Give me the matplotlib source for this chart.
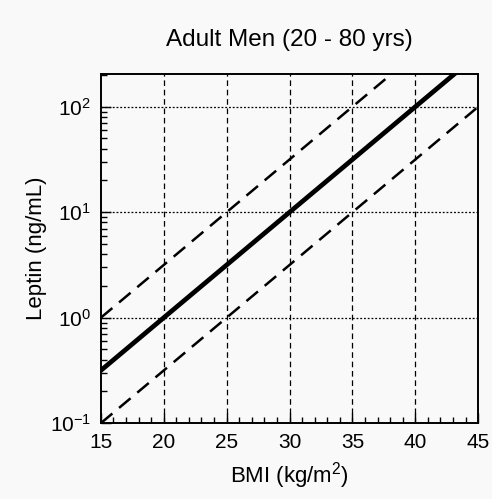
import matplotlib
matplotlib.use("Agg")
import matplotlib.pyplot as plt
from matplotlib.ticker import FixedLocator, LogLocator, NullFormatter

plt.rcParams['font.family'] = ['Liberation Sans', 'DejaVu Sans']
plt.rcParams['mathtext.fontset'] = 'custom'
plt.rcParams['mathtext.rm'] = 'Liberation Sans'
plt.rcParams['mathtext.it'] = 'Liberation Sans'

# BMI values and leptin (straight lines on log scale)
bmi = [15, 20, 25, 30, 35, 40, 45]
leptin_mean = [0.316, 1.0, 3.16, 10.0, 31.6, 100.0, 316.0]
leptin_upper = [1.0, 3.16, 10.0, 31.6, 100.0, 316.0, 1000.0]
leptin_lower = [0.1, 0.316, 1.0, 3.16, 10.0, 31.6, 100.0]

x_ticks = [15, 20, 25, 30, 35, 40, 45]
x_grid = [20, 25, 30, 35, 40]
y_grid = [1, 10, 100]

bg = '#f9f9f9'
fig = plt.figure(figsize=(4.92, 4.99), dpi=100, facecolor=bg)
ax = fig.add_axes([0.205, 0.152, 0.767, 0.700], facecolor=bg)

for gx in x_grid:
    ax.axvline(gx, color='black', lw=0.9, dashes=(4.5, 3), zorder=1)
for gy in y_grid:
    ax.axhline(gy, color='black', lw=0.9, dashes=(1.5, 1.5), zorder=1)

ax.plot(bmi, leptin_upper, color='black', lw=1.8, dashes=(6, 3.5), zorder=2)
ax.plot(bmi, leptin_lower, color='black', lw=1.8, dashes=(6, 3.5), zorder=2)
ax.plot(bmi, leptin_mean, color='black', lw=3.4, zorder=3)

ax.set_yscale('log')
ax.set_xlim(15, 45)
ax.set_ylim(0.1, 205)

ax.xaxis.set_major_locator(FixedLocator(x_ticks))
ax.xaxis.set_minor_locator(FixedLocator(range(15, 46)))
ax.yaxis.set_major_locator(LogLocator(base=10, numticks=10))
ax.yaxis.set_minor_locator(LogLocator(base=10, subs=range(2, 10), numticks=10))
ax.yaxis.set_minor_formatter(NullFormatter())

ax.tick_params(axis='both', which='both', direction='in', top=False, right=False,
               labelsize=15, width=1.0)
ax.tick_params(axis='both', which='major', length=7, pad=7)
ax.tick_params(axis='both', which='minor', length=4)

for sp in ax.spines.values():
    sp.set_linewidth(1.4)

ax.set_xlabel('BMI (kg/m$^2$)', fontsize=16, labelpad=6)
ax.set_ylabel('Leptin (ng/mL)', fontsize=16, labelpad=2)
ax.set_title('Adult Men (20 - 80 yrs)', fontsize=17.5, pad=20)

fig.savefig('out.png', dpi=100, facecolor=bg)
